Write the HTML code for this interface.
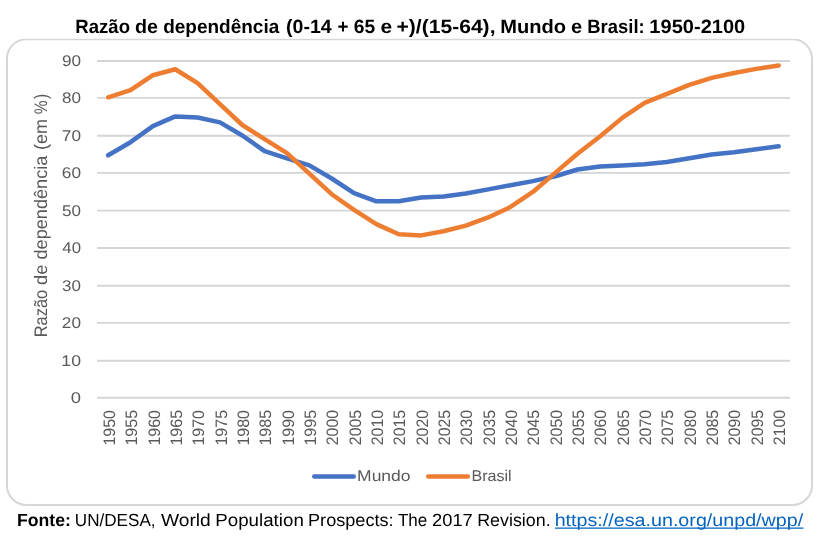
<!DOCTYPE html>
<html><head><meta charset="utf-8"><title>Razão de dependência</title>
<style>
html,body{margin:0;padding:0;background:#fff;}
body{width:819px;height:536px;overflow:hidden;font-family:"Liberation Sans",sans-serif;}
svg{display:block;will-change:transform;opacity:0.9999;}
svg text{font-family:"Liberation Sans",sans-serif;text-rendering:geometricPrecision;}
</style></head><body>
<svg width="819" height="536" viewBox="0 0 819 536">
<defs><clipPath id="fc"><rect x="0" y="38.7" width="819" height="480"/></clipPath></defs>
<rect x="0" y="0" width="819" height="536" fill="#fff"/>
<rect x="7.0" y="39.2" width="805.00" height="465.80" rx="19.5" ry="19.5" fill="#fff" stroke="#D6D6D6" stroke-width="2" clip-path="url(#fc)"/>
<line x1="97.1" y1="61.00" x2="790.0" y2="61.00" stroke="#D5D5D5" stroke-width="1.9"/>
<text transform="translate(61.89,66.15) scale(0.8577,0.7736)" font-size="20" fill="#595959">90</text>
<line x1="97.1" y1="97.90" x2="790.0" y2="97.90" stroke="#D5D5D5" stroke-width="1.9"/>
<text transform="translate(61.97,103.05) scale(0.8544,0.7736)" font-size="20" fill="#595959">80</text>
<line x1="97.1" y1="135.70" x2="790.0" y2="135.70" stroke="#D5D5D5" stroke-width="1.9"/>
<text transform="translate(61.82,140.85) scale(0.8611,0.7736)" font-size="20" fill="#595959">70</text>
<line x1="97.1" y1="172.90" x2="790.0" y2="172.90" stroke="#D5D5D5" stroke-width="1.9"/>
<text transform="translate(61.82,178.05) scale(0.8611,0.7736)" font-size="20" fill="#595959">60</text>
<line x1="97.1" y1="210.60" x2="790.0" y2="210.60" stroke="#D5D5D5" stroke-width="1.9"/>
<text transform="translate(62.02,215.75) scale(0.8519,0.7736)" font-size="20" fill="#595959">50</text>
<line x1="97.1" y1="248.00" x2="790.0" y2="248.00" stroke="#D5D5D5" stroke-width="1.9"/>
<text transform="translate(62.31,253.15) scale(0.8381,0.7736)" font-size="20" fill="#595959">40</text>
<line x1="97.1" y1="285.80" x2="790.0" y2="285.80" stroke="#D5D5D5" stroke-width="1.9"/>
<text transform="translate(62.05,290.95) scale(0.8502,0.7736)" font-size="20" fill="#595959">30</text>
<line x1="97.1" y1="322.90" x2="790.0" y2="322.90" stroke="#D5D5D5" stroke-width="1.9"/>
<text transform="translate(61.84,328.05) scale(0.8602,0.7736)" font-size="20" fill="#595959">20</text>
<line x1="97.1" y1="360.80" x2="790.0" y2="360.80" stroke="#D5D5D5" stroke-width="1.9"/>
<text transform="translate(61.36,365.95) scale(0.8826,0.7736)" font-size="20" fill="#595959">10</text>
<line x1="97.1" y1="397.75" x2="790.0" y2="397.75" stroke="#D5D5D5" stroke-width="1.9"/>
<text transform="translate(70.78,402.90) scale(0.9205,0.7736)" font-size="20" fill="#595959">0</text>
<text transform="translate(75.36,32.60) scale(0.9281,0.9593)" font-size="20" fill="#000" font-weight="bold">Razão</text>
<text transform="translate(134.89,32.60) scale(0.9844,0.9593)" font-size="20" fill="#000" font-weight="bold">de</text>
<text transform="translate(163.17,32.60) scale(0.9497,0.9593)" font-size="20" fill="#000" font-weight="bold">dependência</text>
<text transform="translate(286.02,32.60) scale(0.9785,0.9593)" font-size="20" fill="#000" font-weight="bold">(0-14</text>
<text transform="translate(337.61,32.60) scale(0.9381,0.9593)" font-size="20" fill="#000" font-weight="bold">+</text>
<text transform="translate(353.84,32.60) scale(0.9623,0.9593)" font-size="20" fill="#000" font-weight="bold">65</text>
<text transform="translate(380.58,32.60) scale(1.0455,0.9593)" font-size="20" fill="#000" font-weight="bold">e</text>
<text transform="translate(396.51,32.60) scale(1.0538,0.9593)" font-size="20" fill="#000" font-weight="bold">+)/(15-64),</text>
<text transform="translate(500.15,32.60) scale(1.0044,0.9593)" font-size="20" fill="#000" font-weight="bold">Mundo</text>
<text transform="translate(571.02,32.60) scale(1.0041,0.9593)" font-size="20" fill="#000" font-weight="bold">e</text>
<text transform="translate(587.26,32.60) scale(0.9223,0.9593)" font-size="20" fill="#000" font-weight="bold">Brasil:</text>
<text transform="translate(649.34,32.60) scale(1.0026,0.9593)" font-size="20" fill="#000" font-weight="bold">1950-2100</text>
<text transform="translate(16.92,525.60) scale(0.8835,0.8794)" font-size="20" fill="#000" font-weight="bold">Fonte:</text>
<text transform="translate(74.78,525.60) scale(0.8549,0.8794)" font-size="20" fill="#000">UN/DESA,</text>
<text transform="translate(160.90,525.60) scale(0.9608,0.8794)" font-size="20" fill="#000">World</text>
<text transform="translate(215.26,525.60) scale(0.9369,0.8794)" font-size="20" fill="#000">Population</text>
<text transform="translate(308.01,525.60) scale(0.9064,0.8794)" font-size="20" fill="#000">Prospects:</text>
<text transform="translate(397.93,525.60) scale(0.8509,0.8794)" font-size="20" fill="#000">The</text>
<text transform="translate(432.04,525.60) scale(0.9145,0.8794)" font-size="20" fill="#000">2017</text>
<text transform="translate(477.24,525.60) scale(0.8921,0.8794)" font-size="20" fill="#000">Revision.</text>
<text transform="translate(554.64,525.60) scale(0.9848,0.8794)" font-size="20" fill="#0563C1">https://esa.un.org/unpd/wpp/</text>
<line x1="555.0" y1="528.1" x2="803.4" y2="528.1" stroke="#0563C1" stroke-width="1.1"/>
<text transform="translate(47.10,337.35) rotate(-90) scale(0.8225,0.9084)" font-size="20" fill="#595959">Razão</text>
<text transform="translate(47.10,284.97) rotate(-90) scale(0.9113,0.9084)" font-size="20" fill="#595959">de</text>
<text transform="translate(47.10,259.56) rotate(-90) scale(0.9077,0.9084)" font-size="20" fill="#595959">dependência</text>
<text transform="translate(47.10,150.02) rotate(-90) scale(0.9034,0.9084)" font-size="20" fill="#595959">(em</text>
<text transform="translate(47.10,114.31) rotate(-90) scale(0.7763,0.9084)" font-size="20" fill="#595959">%</text>
<text transform="translate(47.10,99.09) rotate(-90) scale(0.7736,0.9084)" font-size="20" fill="#595959">)</text>
<text transform="translate(115.15,445.62) rotate(-90) scale(0.8013,0.8309)" font-size="20" fill="#595959">1950</text>
<text transform="translate(137.47,445.62) rotate(-90) scale(0.8025,0.8309)" font-size="20" fill="#595959">1955</text>
<text transform="translate(159.80,445.62) rotate(-90) scale(0.8013,0.8309)" font-size="20" fill="#595959">1960</text>
<text transform="translate(182.12,445.62) rotate(-90) scale(0.8025,0.8309)" font-size="20" fill="#595959">1965</text>
<text transform="translate(204.45,445.62) rotate(-90) scale(0.8013,0.8309)" font-size="20" fill="#595959">1970</text>
<text transform="translate(226.78,445.62) rotate(-90) scale(0.8025,0.8309)" font-size="20" fill="#595959">1975</text>
<text transform="translate(249.10,445.62) rotate(-90) scale(0.8013,0.8309)" font-size="20" fill="#595959">1980</text>
<text transform="translate(271.43,445.62) rotate(-90) scale(0.8025,0.8309)" font-size="20" fill="#595959">1985</text>
<text transform="translate(293.75,445.62) rotate(-90) scale(0.8013,0.8309)" font-size="20" fill="#595959">1990</text>
<text transform="translate(316.07,445.62) rotate(-90) scale(0.8025,0.8309)" font-size="20" fill="#595959">1995</text>
<text transform="translate(338.40,445.19) rotate(-90) scale(0.7916,0.8309)" font-size="20" fill="#595959">2000</text>
<text transform="translate(360.73,445.19) rotate(-90) scale(0.7927,0.8309)" font-size="20" fill="#595959">2005</text>
<text transform="translate(383.05,445.19) rotate(-90) scale(0.7916,0.8309)" font-size="20" fill="#595959">2010</text>
<text transform="translate(405.38,445.19) rotate(-90) scale(0.7927,0.8309)" font-size="20" fill="#595959">2015</text>
<text transform="translate(427.70,445.19) rotate(-90) scale(0.7916,0.8309)" font-size="20" fill="#595959">2020</text>
<text transform="translate(450.03,445.19) rotate(-90) scale(0.7927,0.8309)" font-size="20" fill="#595959">2025</text>
<text transform="translate(472.35,445.19) rotate(-90) scale(0.7916,0.8309)" font-size="20" fill="#595959">2030</text>
<text transform="translate(494.68,445.19) rotate(-90) scale(0.7927,0.8309)" font-size="20" fill="#595959">2035</text>
<text transform="translate(517.00,445.19) rotate(-90) scale(0.7916,0.8309)" font-size="20" fill="#595959">2040</text>
<text transform="translate(539.33,445.19) rotate(-90) scale(0.7927,0.8309)" font-size="20" fill="#595959">2045</text>
<text transform="translate(561.65,445.19) rotate(-90) scale(0.7916,0.8309)" font-size="20" fill="#595959">2050</text>
<text transform="translate(583.98,445.19) rotate(-90) scale(0.7927,0.8309)" font-size="20" fill="#595959">2055</text>
<text transform="translate(606.30,445.19) rotate(-90) scale(0.7916,0.8309)" font-size="20" fill="#595959">2060</text>
<text transform="translate(628.62,445.19) rotate(-90) scale(0.7927,0.8309)" font-size="20" fill="#595959">2065</text>
<text transform="translate(650.95,445.19) rotate(-90) scale(0.7916,0.8309)" font-size="20" fill="#595959">2070</text>
<text transform="translate(673.27,445.19) rotate(-90) scale(0.7927,0.8309)" font-size="20" fill="#595959">2075</text>
<text transform="translate(695.60,445.19) rotate(-90) scale(0.7916,0.8309)" font-size="20" fill="#595959">2080</text>
<text transform="translate(717.92,445.19) rotate(-90) scale(0.7927,0.8309)" font-size="20" fill="#595959">2085</text>
<text transform="translate(740.25,445.19) rotate(-90) scale(0.7916,0.8309)" font-size="20" fill="#595959">2090</text>
<text transform="translate(762.57,445.19) rotate(-90) scale(0.7927,0.8309)" font-size="20" fill="#595959">2095</text>
<text transform="translate(784.90,445.19) rotate(-90) scale(0.7916,0.8309)" font-size="20" fill="#595959">2100</text>
<polyline points="108.20,155.30 130.55,142.20 152.90,126.11 175.25,116.38 197.60,117.50 219.95,122.37 242.30,135.47 264.65,151.18 287.00,158.29 309.35,165.40 331.70,178.50 354.05,193.09 376.40,201.33 398.75,201.33 421.10,197.58 443.45,196.46 465.80,193.47 488.15,189.35 510.50,185.23 532.85,181.12 555.20,176.25 577.55,169.52 599.90,166.52 622.25,165.40 644.60,164.28 666.95,162.03 689.30,158.29 711.65,154.55 734.00,152.30 756.35,149.31 778.70,146.32" fill="none" stroke="#4472C4" stroke-width="4.5" stroke-linecap="round" stroke-linejoin="round"/>
<polyline points="108.20,97.30 130.55,90.19 152.90,75.22 175.25,69.23 197.60,83.08 219.95,104.03 242.30,124.99 264.65,139.21 287.00,153.05 309.35,173.63 331.70,194.22 354.05,209.93 376.40,224.15 398.75,234.25 421.10,235.38 443.45,231.26 465.80,225.65 488.15,217.42 510.50,206.94 532.85,191.97 555.20,172.89 577.55,153.80 599.90,136.59 622.25,117.88 644.60,102.91 666.95,93.93 689.30,84.95 711.65,77.84 734.00,72.97 756.35,68.86 778.70,65.49" fill="none" stroke="#ED7D31" stroke-width="4.5" stroke-linecap="round" stroke-linejoin="round"/>
<line x1="314.25" y1="476.4" x2="353.75" y2="476.4" stroke="#4472C4" stroke-width="4.5" stroke-linecap="round"/>
<line x1="428.25" y1="476.4" x2="467.85" y2="476.4" stroke="#ED7D31" stroke-width="4.5" stroke-linecap="round"/>
<text transform="translate(357.07,480.80) scale(0.8745,0.7776)" font-size="20" fill="#595959">Mundo</text>
<text transform="translate(471.48,480.80) scale(0.8039,0.7776)" font-size="20" fill="#595959">Brasil</text>
</svg>
</body></html>
